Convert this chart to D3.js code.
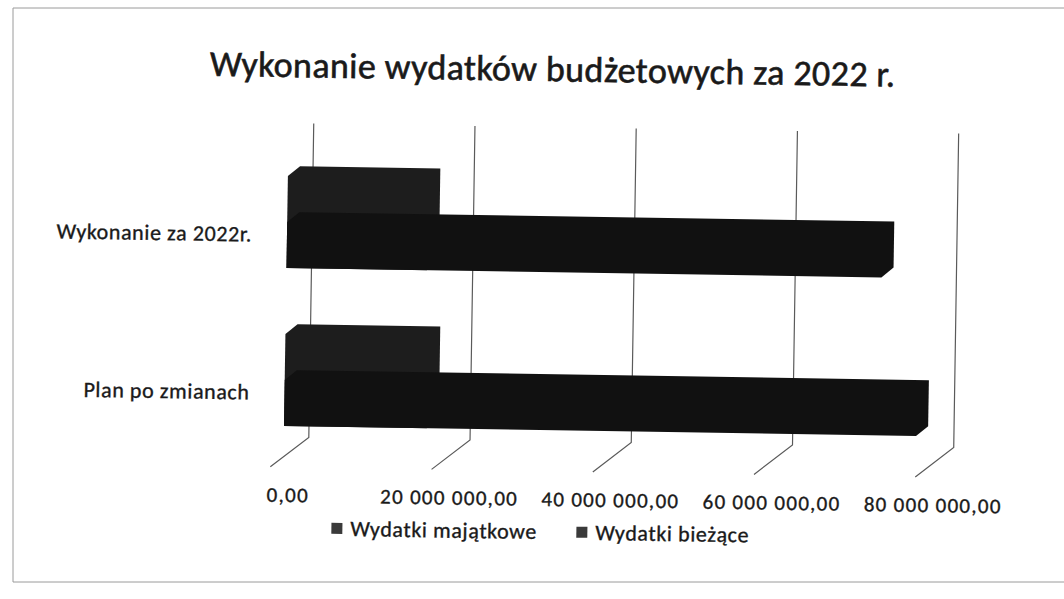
<!DOCTYPE html>
<html>
<head>
<meta charset="utf-8">
<script src="https://cdn.jsdelivr.net/npm/d3@7"></script>
<style>
  body { margin: 0; background: #fff; }
  text { font-family: Carlito, Calibri, Lato, sans-serif; fill: #1a1a1a; stroke: #1a1a1a; stroke-width: 0.35px; }
</style>
</head>
<body>
<svg id="chart" width="1064" height="599"></svg>
<script>
// chart data
var categories = ["Wykonanie za 2022r.", "Plan po zmianach"];
var seriesNames = ["Wydatki majątkowe", "Wydatki bieżące"];
var majatkowe = [17.4e6, 17.7e6];
var biezace = [73.8e6, 78.4e6];
var tickValues = [0, 20e6, 40e6, 60e6, 80e6];
var title = "Wykonanie wydatków budżetowych za 2022 r.";

var
  depthX = 12,
  depthY = 10,
  barHeights = [92, 46],
  colors = ["#1d1d1d", "#111111"],

  pl = d3.formatLocale({ decimal: ",", thousands: "\u00a0", grouping: [3], currency: ["", " zł"] }),
  fmt = pl.format(",.2f"),

  x = d3.scaleLinear().domain([0, 80e6]).range([286, 931]),
  xBack = d3.scaleLinear().domain([0, 80e6]).range([311, 956]),
  y = d3.scalePoint().domain(categories).range([273, 431]),

  svg = d3.select("#chart");

// scan border (kept straight)
svg.append("path")
  .attr("d", "M1064,8H13V582H1064")
  .attr("fill", "none")
  .attr("stroke", "#9a9a9a")
  .attr("stroke-width", 1);

// the scanned sheet is a little skewed
var g = svg.append("g").attr("transform", "rotate(0.9,600,300)");

// title
g.append("text")
  .attr("x", 549).attr("y", 82)
  .attr("text-anchor", "middle")
  .style("font-size", "36px")
  .style("letter-spacing", "0.4px")
  .style("stroke-width", "0.6px")
  .text(title);

// gridlines on the back wall, running onto the floor
g.selectAll(".grid")
  .data(tickValues)
  .enter().append("path")
  .attr("class", "grid")
  .attr("d", (d) => "M" + xBack(d) + ",128V442L" + (xBack(d) - 38) + ",472")
  .attr("fill", "none")
  .attr("stroke", "#5a5a5a")
  .attr("stroke-width", 1.2);

// tick labels
g.selectAll(".tick-label")
  .data(tickValues)
  .enter().append("text")
  .attr("class", "tick-label")
  .attr("x", (d) => xBack(d) - 20)
  .attr("y", 507)
  .attr("text-anchor", "middle")
  .style("font-size", "21px")
  .style("letter-spacing", "1.3px")
  .text((d) => fmt(d));

// category labels
g.selectAll(".cat-label")
  .data(categories)
  .enter().append("text")
  .attr("class", "cat-label")
  .attr("x", 251)
  .attr("y", (d) => y(d) - 26)
  .attr("text-anchor", "end")
  .style("font-size", "22px")
  .style("letter-spacing", "0.6px")
  .text((d) => d);

// 3d box: front face, top face, right face
var box = (x0, x1, yb, h) => {
  var yt = yb - h;
  return "M" + x0 + "," + yb +
    "V" + yt +
    "L" + (x0 + depthX) + "," + (yt - depthY) +
    "H" + (x1 + depthX) +
    "V" + (yb - depthY) +
    "L" + x1 + "," + yb + "Z";
};

var series = [majatkowe, biezace];
series.forEach((vals, si) => {
  g.selectAll(".bar-" + si)
    .data(categories)
    .enter().append("path")
    .attr("class", "bar-" + si)
    .attr("d", (d, i) => box(x(0), x(vals[i]), y(d), barHeights[si]))
    .attr("fill", colors[si]);
});

// legend
var legend = g.append("g").attr("transform", "translate(335,540)");
var legendX = [0, 245];
seriesNames.forEach((name, i) => {
  var item = legend.append("g").attr("transform", "translate(" + legendX[i] + ",0)");
  item.append("rect")
    .attr("x", 0).attr("y", -13)
    .attr("width", 11).attr("height", 11)
    .attr("fill", "#3a3a3a");
  item.append("text")
    .attr("x", 19).attr("y", 0)
    .style("font-size", "22px")
    .style("letter-spacing", "0.6px")
    .text(name);
});
</script>
</body>
</html>
